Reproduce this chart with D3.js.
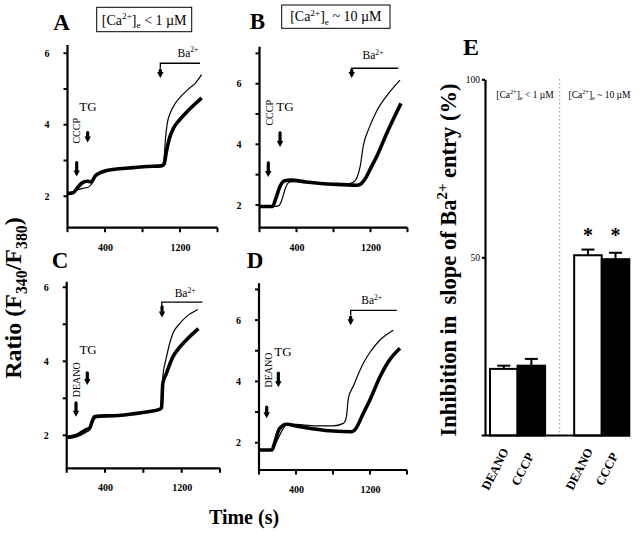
<!DOCTYPE html>
<html>
<head>
<meta charset="utf-8">
<script src="https://cdn.jsdelivr.net/npm/d3@7"></script>
<style>
  body { margin: 0; background: #fff; overflow: hidden; }
  svg { display: block; }
  svg text { font-family: "Liberation Serif", "Times New Roman", serif; fill: #000; }
</style>
</head>
<body>
<svg id="fig" width="640" height="540"></svg>
<script>
// fura-2 traces, [time (s), ratio]; thin = control, thick = drug
const aControl = [[0,2.1],[60,2.12],[110,2.18],[160,2.22],[220,2.25],[260,2.35],[300,2.55],[350,2.65],[420,2.72],[550,2.76],[700,2.8],[850,2.83],[1000,2.86],[1025,2.95],[1045,3.6],[1065,4.05],[1100,4.35],[1150,4.6],[1220,4.82],[1300,5.02],[1370,5.18],[1430,5.4]];
const aDrug = [[0,2.08],[60,2.1],[110,2.25],[160,2.38],[210,2.42],[250,2.4],[300,2.58],[350,2.66],[420,2.72],[550,2.77],[700,2.8],[850,2.83],[1000,2.85],[1030,2.9],[1055,3.25],[1085,3.6],[1130,3.9],[1200,4.15],[1280,4.38],[1360,4.58],[1430,4.75]];
const bControl = [[0,1.95],[150,1.95],[210,1.98],[240,2.15],[280,2.55],[320,2.75],[400,2.78],[600,2.72],[800,2.68],[950,2.7],[1014,2.75],[1060,2.95],[1090,3.3],[1122,3.95],[1180,4.5],[1267,5.1],[1375,5.6],[1519,6.12]];
const bDrug = [[0,1.95],[140,1.95],[175,2.2],[220,2.6],[270,2.8],[340,2.82],[500,2.76],[700,2.7],[900,2.67],[1050,2.65],[1090,2.68],[1150,2.9],[1200,3.2],[1267,3.6],[1375,4.36],[1450,4.85],[1530,5.35]];
const cControl = [[0,1.91],[100,1.96],[200,2.08],[240,2.15],[270,2.35],[289,2.45],[341,2.5],[500,2.52],[690,2.57],[850,2.63],[968,2.69],[986,2.75],[1003,3.58],[1040,4.1],[1108,4.75],[1180,5.02],[1247,5.2],[1369,5.4]];
const cDrug = [[0,1.95],[100,2.0],[200,2.15],[240,2.2],[270,2.4],[289,2.5],[341,2.52],[500,2.53],[690,2.58],[850,2.64],[968,2.7],[990,2.75],[1003,3.4],[1040,3.67],[1108,4.12],[1180,4.38],[1247,4.57],[1375,4.88]];
const dControl = [[0,1.76],[100,1.76],[150,1.8],[200,2.1],[260,2.45],[300,2.6],[400,2.6],[600,2.55],[800,2.55],[912,2.63],[945,2.85],[966,3.45],[1020,3.85],[1128,4.59],[1200,4.95],[1308,5.35],[1452,5.67]];
const dDrug = [[0,1.76],[140,1.76],[170,2.0],[220,2.45],[300,2.6],[400,2.55],[600,2.45],[800,2.38],[1000,2.36],[1030,2.4],[1128,2.96],[1200,3.4],[1308,4.15],[1400,4.65],[1524,5.08]];

const timeTicks = [0, 400, 800, 1200, 1600];
const timeTickLabels = ['', '400', '', '1200', ''];
const ratioTickLabels = [2, 4, 6];

// panel E
const barGroups = ['low', 'high'];
const barTreatments = ['DEANO', 'CCCP'];
const barValues = [[18.7, 19.6], [50.6, 49.5]];
const barErrors = [[0.9, 1.9], [1.6, 1.8]];
const groupHeaders = [
  [['[Ca', 'n'], ['2+', 'sup'], [']', 'n'], ['e', 'sub'], [' < 1 \u00b5M', 'n']],
  [['[Ca', 'n'], ['2+', 'sup'], [']', 'n'], ['e', 'sub'], [' ~ 10 \u00b5M', 'n']]
];

const svg = d3.select('#fig');

function rich(text, parts, fs) {
  let shift = 0;
  for (const [s, kind] of parts) {
    const target = kind == 'sup' ? -0.38 * fs : kind == 'sub' ? 0.25 * fs : 0;
    text.append('tspan')
      .attr('dy', (target - shift).toFixed(2))
      .attr('font-size', kind == 'n' ? fs : fs * 0.66)
      .text(s);
    shift = target;
  }
  return text;
}

function arrow(g, x, y0, y1) {
  g.append('line')
    .attr('x1', x).attr('x2', x).attr('y1', y0).attr('y2', y1 - 4)
    .attr('stroke', '#000').attr('stroke-width', 3.2).attr('stroke-linecap', 'round');
  g.append('path')
    .attr('d', `M${x - 3.2},${y1 - 6}L${x + 3.2},${y1 - 6}L${x},${y1}Z`)
    .attr('fill', '#000');
}

function seg(g, x1, y1, x2, y2, w) {
  g.append('line').attr('x1', x1).attr('y1', y1).attr('x2', x2).attr('y2', y2)
    .attr('stroke', '#000').attr('stroke-width', w);
}

const caBa = [['Ba', 'n'], ['2+', 'sup']];

const panels = [
  { id: 'A', control: aControl, drug: aDrug, xr: [67.5, 217.5], yr: [227.7, 45], yd: [1.12, 6.23],
    agent: 'CCCP', agentArrow: [98, 2.94, 2.55], agentText: [91, 3.83], tgArrow: [215, 3.78, 3.5], tgText: [218, 4.39],
    baArrow: [990, 5.53, 5.31], baBar: [990, 1413, 5.72], baText: [1285, 5.9],
    letter: [61.5, 30], box: [96.7, 7.3, 95, 24.4], boxText: 0 },
  { id: 'B', control: bControl, drug: bDrug, xr: [259.5, 407.5], yr: [227.7, 46.7], yd: [1.25, 7.22],
    agent: 'CCCP', agentArrow: [95, 3.39, 2.92], agentText: [106, 5.04], tgArrow: [222, 4.38, 3.91], tgText: [276, 5.1],
    baArrow: [997, 6.45, 6.19], baBar: [997, 1500, 6.51], baText: [1227, 6.8],
    letter: [257.5, 28.5], box: [281.7, 5, 108.3, 23.3], boxText: 1 },
  { id: 'C', control: cControl, drug: cDrug, xr: [66.7, 220], yr: [468.3, 281.7], yd: [1.11, 6.15],
    agent: 'DEANO', agentArrow: [97, 2.88, 2.5], agentText: [104, 3.5], tgArrow: [215, 3.69, 3.36], tgText: [223, 4.2],
    baArrow: [995, 5.47, 5.18], baBar: [992, 1416, 5.6], baText: [1236, 5.74],
    letter: [60, 268] },
  { id: 'D', control: dControl, drug: dDrug, xr: [259, 407], yr: [470, 283.3], yd: [1.11, 7.2],
    agent: 'DEANO', agentArrow: [83, 3.16, 2.8], agentText: [100, 4.37], tgArrow: [209, 4.27, 3.81], tgText: [259, 4.83],
    baArrow: [991, 6.1, 5.83], baBar: [991, 1489, 6.32], baText: [1218, 6.52],
    letter: [255, 268] }
];

for (const p of panels) {
  const x = d3.scaleLinear([0, 1600], p.xr);
  const y = d3.scaleLinear(p.yd, p.yr);
  p.x = x;
  p.y = y;
  const g = svg.append('g').attr('class', 'panel-' + p.id);

  // tick labels from d3 axes; the lines themselves are drawn at the end
  const yTicks = d3.range(2, Math.floor(p.yd[1]) + 1);
  p.yTicks = yTicks;
  g.append('g')
    .attr('transform', `translate(${p.xr[0]},0)`)
    .call(d3.axisLeft(y).tickValues(yTicks).tickSize(3).tickSizeOuter(0).tickPadding(15)
      .tickFormat(d => ratioTickLabels.includes(d) ? d : ''));
  g.append('g')
    .attr('transform', `translate(0,${p.yr[0]})`)
    .call(d3.axisBottom(x).tickValues(timeTicks).tickSize(4).tickSizeOuter(0).tickPadding(12)
      .tickFormat((d, i) => timeTickLabels[i]));
  g.selectAll('.domain, .tick line').remove();
  g.selectAll('.tick text')
    .attr('font-family', '"Liberation Serif", serif')
    .attr('font-size', 10).attr('font-weight', 'bold').attr('fill', '#000');

  const trace = d3.line().x(d => x(d[0])).y(d => y(d[1])).curve(d3.curveMonotoneX);
  g.append('path').datum(p.drug).attr('d', trace)
    .attr('fill', 'none').attr('stroke', '#000').attr('stroke-width', 3.6).attr('stroke-linejoin', 'round');
  g.append('path').datum(p.control).attr('d', trace)
    .attr('fill', 'none').attr('stroke', '#000').attr('stroke-width', 1.2);

  // additions
  arrow(g, x(p.agentArrow[0]), y(p.agentArrow[1]), y(p.agentArrow[2]));
  arrow(g, x(p.tgArrow[0]), y(p.tgArrow[1]), y(p.tgArrow[2]));
  arrow(g, x(p.baArrow[0]), y(p.baArrow[1]), y(p.baArrow[2]));
  g.append('path')
    .attr('d', `M${x(p.baBar[0])},${y(p.baBar[2]) + 5}V${y(p.baBar[2])}H${x(p.baBar[1])}`)
    .attr('fill', 'none').attr('stroke', '#000').attr('stroke-width', 1.3);
  rich(g.append('text').attr('x', x(p.baText[0])).attr('y', y(p.baText[1]))
    .attr('text-anchor', 'middle'), caBa, 11.5);
  g.append('text').attr('x', x(p.tgText[0])).attr('y', y(p.tgText[1]))
    .attr('text-anchor', 'middle').attr('font-size', 13).text('TG');
  g.append('text')
    .attr('transform', `translate(${x(p.agentText[0]) + 3.5},${y(p.agentText[1])}) rotate(-90)`)
    .attr('text-anchor', 'middle').attr('font-size', 10).text(p.agent);

  g.append('text').attr('x', p.letter[0]).attr('y', p.letter[1])
    .attr('text-anchor', 'middle').attr('font-size', 23).attr('font-weight', 'bold').text(p.id);

  if (p.box) {
    const [bx, by, bw, bh] = p.box;
    g.append('rect').attr('x', bx).attr('y', by).attr('width', bw).attr('height', bh)
      .attr('fill', 'none').attr('stroke', '#000').attr('stroke-width', 1);
    rich(g.append('text').attr('x', bx + bw / 2).attr('y', by + bh - 7)
      .attr('text-anchor', 'middle'), groupHeaders[p.boxText], 14);
  }
}

// shared axis titles
rich(svg.append('text')
  .attr('transform', 'translate(21,298) rotate(-90)')
  .attr('text-anchor', 'middle').attr('font-weight', 'bold'),
  [['Ratio (F', 'n'], ['340', 'sub'], ['/F', 'n'], ['380', 'sub'], [')', 'n']], 24);
svg.append('text').attr('x', 244).attr('y', 524)
  .attr('text-anchor', 'middle').attr('font-size', 20).attr('font-weight', 'bold').text('Time (s)');

// panel E
const yE = d3.scaleLinear([0, 100], [435.5, 79.3]);
const xGroup = d3.scaleBand(barGroups, [490, 629.3]).paddingInner(0.345);
const xTreat = d3.scaleBand(barTreatments, [0, xGroup.bandwidth()]);
const gE = svg.append('g').attr('class', 'panel-E');

gE.append('text').attr('x', 471).attr('y', 55).attr('text-anchor', 'middle')
  .attr('font-size', 24).attr('font-weight', 'bold').text('E');

const midX = (xGroup('low') + xGroup.bandwidth() + xGroup('high')) / 2;
gE.append('line').attr('x1', midX).attr('x2', midX).attr('y1', yE(100)).attr('y2', yE(0))
  .attr('stroke', '#666').attr('stroke-width', 1).attr('stroke-dasharray', '1,3');

barGroups.forEach((grp, gi) => {
  rich(gE.append('text')
    .attr('x', gi == 0 ? 525 : 599.5).attr('y', 98).attr('text-anchor', 'middle'),
    groupHeaders[gi], 9.5);
  barTreatments.forEach((tr, ti) => {
    const v = barValues[gi][ti];
    const e = barErrors[gi][ti];
    const bx = xGroup(grp) + xTreat(tr);
    const cx = bx + xTreat.bandwidth() / 2;
    seg(gE, cx, yE(v), cx, yE(v + e), 2);
    seg(gE, cx - 6.5, yE(v + e), cx + 6.5, yE(v + e), 2);
    gE.append('rect').attr('x', bx).attr('y', yE(v))
      .attr('width', xTreat.bandwidth()).attr('height', yE(0) - yE(v))
      .attr('fill', ti == 0 ? '#fff' : '#000').attr('stroke', '#000').attr('stroke-width', 2);
    if (grp == 'high') {
      gE.append('text').attr('x', cx).attr('y', 242).attr('text-anchor', 'middle')
        .attr('font-size', 20).attr('font-weight', 'bold').text('*');
    }
    gE.append('text')
      .attr('transform', `translate(${cx - 5},471) rotate(-63)`)
      .attr('text-anchor', 'middle').attr('font-size', 12.5).attr('font-weight', 'bold').text(tr);
  });
});

gE.append('g').attr('transform', 'translate(485,0)')
  .call(d3.axisLeft(yE).tickValues([50, 100]).tickSize(3).tickSizeOuter(0).tickPadding(2))
  .call(a => a.selectAll('path, line').attr('stroke', '#000').attr('stroke-width', 2.2))
  .call(a => a.selectAll('.tick text').attr('font-family', '"Liberation Serif", serif')
    .attr('font-size', 9.5).attr('fill', '#000'));
seg(gE, 481.7, yE(0), 630, yE(0), 2.2);

rich(svg.append('text')
  .attr('transform', 'translate(456,260) rotate(-90)')
  .attr('text-anchor', 'middle').attr('font-weight', 'bold'),
  [['Inhibition in\u00a0\u00a0slope of Ba', 'n'], ['2+', 'sup'], [' entry (%)', 'n']], 22.5);

// trace-panel axis lines, drawn last and as heavy as panel E's
const axisLines = svg.append('g').attr('class', 'axis-lines');
for (const p of panels) {
  const x0 = p.x(0), yBase = p.y(p.yd[0]), yTop = p.y(p.yd[1]), xEnd = p.x(1600);
  axisLines.append('path')
    .attr('d', `M${x0},${yTop}V${yBase}H${xEnd}`)
    .attr('fill', 'none').attr('stroke', '#000').attr('stroke-width', 2.2);
  for (const t of p.yTicks) seg(axisLines, x0 - 4, p.y(t), x0, p.y(t), 2);
  for (const t of timeTicks) seg(axisLines, p.x(t), yBase, p.x(t), yBase + 4.5, 2);
}
</script>
</body>
</html>
